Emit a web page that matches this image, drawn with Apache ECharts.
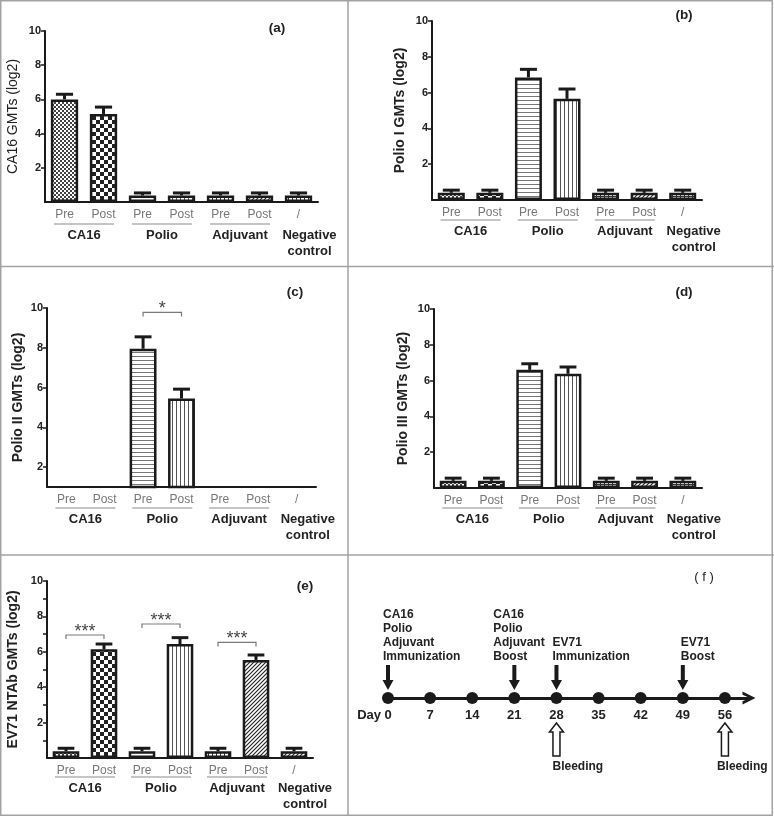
<!DOCTYPE html>
<html><head><meta charset="utf-8">
<script src="https://cdn.jsdelivr.net/npm/echarts@6/dist/echarts.min.js"></script>
<style>html,body{margin:0;padding:0;background:#fff}#c{width:774px;height:816px}</style>
</head><body><div id="c"></div>
<script>
// ---------------- data ----------------
const categories = ['Pre', 'Post', 'Pre', 'Post', 'Pre', 'Post', '/'];
const groupNames = ['CA16', 'Polio', 'Adjuvant', 'Negative\ncontrol'];
const groupStart = [0, 2, 4, 6];
const groupSize = [2, 2, 2, 1];
const yTickValues = [2, 4, 6, 8, 10];
const yMinorTickValues = [1, 2, 3, 4, 5, 6, 7, 8, 9, 10];

const ca16Mean   = [6.0, 5.15, 0.38, 0.38, 0.38, 0.38, 0.38];
const ca16Err    = [6.3, 5.55, 0.53, 0.53, 0.53, 0.53, 0.53];
const polio1Mean = [0.4, 0.4, 6.85, 5.65, 0.4, 0.4, 0.4];
const polio1Err  = [0.55, 0.55, 7.3, 6.2, 0.55, 0.55, 0.55];
const polio2Mean = [null, null, 7.95, 5.45, null, null, null];
const polio2Err  = [null, null, 8.55, 5.92, null, null, null];
const polio3Mean = [0.4, 0.4, 6.6, 6.38, 0.4, 0.4, 0.4];
const polio3Err  = [0.55, 0.55, 6.94, 6.76, 0.55, 0.55, 0.55];
const ev71Mean   = [0.38, 6.14, 0.38, 6.44, 0.38, 5.54, 0.38];
const ev71Err    = [0.55, 6.44, 0.55, 6.8, 0.55, 5.82, 0.55];

const sigPolio2From = [2], sigPolio2To = [3], sigPolio2Y = [9.78], sigPolio2Text = ['*'];
const sigEv71From = [0, 2, 4], sigEv71To = [1, 3, 5], sigEv71Y = [6.95, 7.57, 6.53];
const sigEv71Text = ['***', '***', '***'];

const days = [0, 7, 14, 21, 28, 35, 42, 49, 56];
const immunDays = [0, 21, 28, 49];
const immunLabels = ['CA16\nPolio\nAdjuvant\nImmunization', 'CA16\nPolio\nAdjuvant\nBoost', 'EV71\nImmunization', 'EV71\nBoost'];
const bleedDays = [28, 56];
const bleedLabel = 'Bleeding';

// ---------------- styles / layout ----------------
const FONT = '"Liberation Sans", Arial, Helvetica, sans-serif';
const INK = '#1a1a1a';

function pattern(kind) {
  const c = document.createElement('canvas');
  const ctx = c.getContext('2d');
  let s = 4;
  if (kind === 'checker') s = 8;
  c.width = s; c.height = s;
  ctx.fillStyle = '#fff'; ctx.fillRect(0, 0, s, s);
  ctx.fillStyle = '#222'; ctx.strokeStyle = '#222';
  if (kind === 'fine') {
    ctx.fillStyle = '#444';
    ctx.fillRect(0, 0, 2, 2); ctx.fillRect(2, 2, 2, 2);
  } else if (kind === 'checker') {
    ctx.fillRect(0, 0, 4, 4); ctx.fillRect(4, 4, 4, 4);
  } else if (kind === 'hlines') {
    ctx.fillStyle = '#777'; ctx.fillRect(0, 0, s, 1);
  } else if (kind === 'vlines') {
    ctx.fillStyle = '#555'; ctx.fillRect(0, 0, 1, s);
  } else if (kind === 'grid') {
    ctx.fillStyle = '#333'; ctx.fillRect(0, 0, 1, s); ctx.fillRect(0, 0, s, 1);
  } else if (kind === 'diag') {
    ctx.lineWidth = 1.1;
    ctx.beginPath();
    ctx.moveTo(0, 4); ctx.lineTo(4, 0);
    ctx.moveTo(-1, 1); ctx.lineTo(1, -1);
    ctx.moveTo(3, 5); ctx.lineTo(5, 3);
    ctx.stroke();
  }
  return { image: c, repeat: 'repeat' };
}

const basePats = ['fine', 'checker', 'hlines', 'vlines', 'grid', 'diag', 'grid'];
const ePats    = ['fine', 'checker', 'hlines', 'vlines', 'grid', 'diag', 'diag'];

const panels = [
  { mean: ca16Mean, err: ca16Err, yName: 'CA16 GMTs (log2)', ymin: 0, tag: '(a)',
    grid: { left: 45, top: 31, width: 273, height: 171 }, nameGap: 25, bold: false, tagX: 277, tagY: 28, pats: basePats, gMargin: 19 },
  { mean: polio1Mean, err: polio1Err, yName: 'Polio I GMTs (log2)', ymin: 0, tag: '(b)',
    grid: { left: 432, top: 21, width: 270, height: 179 }, nameGap: 25, bold: true, tagX: 684, tagY: 15, pats: basePats, gMargin: 17 },
  { mean: polio2Mean, err: polio2Err, yName: 'Polio II GMTs (log2)', ymin: 1, tag: '(c)',
    grid: { left: 47, top: 308, width: 269, height: 179 }, nameGap: 22, bold: true, tagX: 295, tagY: 292, pats: basePats, gMargin: 18,
    sig: { from: sigPolio2From, to: sigPolio2To, y: sigPolio2Y, text: sigPolio2Text } },
  { mean: polio3Mean, err: polio3Err, yName: 'Polio III GMTs (log2)', ymin: 0, tag: '(d)',
    grid: { left: 434, top: 309, width: 268, height: 179 }, nameGap: 24, bold: true, tagX: 684, tagY: 292, pats: basePats, gMargin: 17 },
  { mean: ev71Mean, err: ev71Err, yName: 'EV71 NTAb GMTs (log2)', ymin: 0, tag: '(e)',
    grid: { left: 47, top: 581, width: 266, height: 177 }, nameGap: 27, bold: true, tagX: 305, tagY: 586, pats: ePats, gMargin: 16,
    sig: { from: sigEv71From, to: sigEv71To, y: sigEv71Y, text: sigEv71Text }, minor: true },
];

const grids = [], xAxes = [], yAxes = [], series = [], graphics = [];

const groupRich = {
  u: { width: 60, height: 1, lineHeight: 6, backgroundColor: '#8c8c8c' },
  s: { width: 1, height: 1, lineHeight: 6 },
  g: { fontFamily: FONT, fontWeight: 'bold', fontSize: 13, color: '#222', lineHeight: 16 },
  h: { fontFamily: FONT, fontWeight: 'bold', fontSize: 13, color: '#222', lineHeight: 16, padding: [0, 0, 0, 22] }
};
function groupLabel(v) {
  const i = groupStart.findIndex((s, j) => Math.abs(s + groupSize[j] / 2 - v) < 1e-6);
  if (i < 0) return '';
  const sty = groupSize[i] > 1 ? 'g' : 'h';
  const lines = groupNames[i].split('\n').map(t => '{' + sty + '|' + t + '}').join('\n');
  return (groupSize[i] > 1 ? '{u|}' : '{s|}') + '\n' + lines;
}
const pairCenters = groupStart.map((s, i) => s + groupSize[i] / 2).filter((c, i) => groupSize[i] > 1);
const singleCenters = groupStart.map((s, i) => s + groupSize[i] / 2).filter((c, i) => groupSize[i] === 1);

panels.forEach((p, k) => {
  grids.push(Object.assign({ outerBoundsMode: 'none', containLabel: false }, p.grid));
  const xBase = xAxes.length;
  // category axis
  xAxes.push({
    type: 'category', gridIndex: k, data: categories,
    axisLine: { lineStyle: { color: INK, width: 2 } },
    axisTick: { alignWithLabel: true, length: 5, lineStyle: { color: INK, width: 1.2 } },
    axisLabel: { margin: 7, color: '#777', fontFamily: FONT, fontSize: 12, interval: 0 },
    splitLine: { show: false }
  });
  // group label axes (paired groups, single groups)
  [pairCenters, singleCenters].forEach(vals => {
    xAxes.push({
      type: 'value', gridIndex: k, min: 0, max: 7, position: 'bottom',
      axisLine: { show: false }, axisTick: { show: false }, splitLine: { show: false },
      axisLabel: { customValues: vals, margin: p.gMargin, hideOverlap: false, formatter: groupLabel, rich: groupRich }
    });
  });
  yAxes.push({
    type: 'value', gridIndex: k, min: p.ymin, max: 10,
    name: p.yName, nameLocation: 'middle', nameGap: p.nameGap,
    nameTextStyle: { fontFamily: FONT, fontSize: 14, fontWeight: p.bold ? 'bold' : 'normal', color: '#222' },
    axisLine: { show: true, onZero: false, lineStyle: { color: INK, width: 2 } },
    axisTick: { show: true, length: 4, customValues: p.minor ? yMinorTickValues : yTickValues, lineStyle: { color: INK, width: 1.5 } },
    axisLabel: { customValues: yTickValues, margin: 4, fontFamily: FONT, fontSize: 11, fontWeight: 'bold', color: '#222' },
    splitLine: { show: false }
  });
  series.push({
    type: 'bar', xAxisIndex: xBase, yAxisIndex: k, barWidth: '70%', z: 2,
    itemStyle: { borderColor: INK, borderWidth: 2.5 },
    data: p.mean.map((v, i) => v == null ? '-' : ({ value: v, itemStyle: { color: pattern(p.pats[i]) } })),
    animation: false
  });
  series.push({
    type: 'custom', xAxisIndex: xBase, yAxisIndex: k, z: 4, clip: false,
    data: p.mean.map((v, i) => v == null ? null : [i, v, p.err[i]]).filter(d => d),
    renderItem: function (params, api) {
      const b = api.coord([api.value(0), api.value(1)]);
      const t = api.coord([api.value(0), api.value(2)]);
      const hw = api.size([1, 0])[0] * 0.22;
      return { type: 'group', children: [
        { type: 'line', shape: { x1: b[0], y1: b[1], x2: t[0], y2: t[1] }, style: { stroke: INK, lineWidth: 3 } },
        { type: 'line', shape: { x1: t[0] - hw, y1: t[1], x2: t[0] + hw, y2: t[1] }, style: { stroke: INK, lineWidth: 3 } }
      ] };
    },
    animation: false
  });
  if (p.sig) {
    series.push({
      type: 'custom', xAxisIndex: xBase, yAxisIndex: k, z: 4, clip: false,
      data: p.sig.from.map((f, i) => [f, p.sig.to[i], p.sig.y[i]]),
      renderItem: function (params, api) {
        const a = api.coord([api.value(0), api.value(2)]);
        const b = api.coord([api.value(1), api.value(2)]);
        return { type: 'group', children: [
          { type: 'polyline', shape: { points: [[a[0], a[1] + 4], [a[0], a[1]], [b[0], b[1]], [b[0], b[1] + 4]] },
            style: { stroke: '#7a7a7a', lineWidth: 1.2, fill: null } },
          { type: 'text', style: { text: p.sig.text[params.dataIndex], x: (a[0] + b[0]) / 2, y: a[1] - 3,
            align: 'center', verticalAlign: 'middle', font: '18px ' + FONT, fill: '#444' } }
        ] };
      },
      animation: false
    });
  }
  graphics.push({ type: 'text', x: p.tagX, y: p.tagY, style: { text: p.tag, font: 'bold 13.5px ' + FONT, fill: '#222', align: 'center', verticalAlign: 'middle' } });
});

// ---------------- timeline (f) ----------------
const TG = grids.length;
grids.push({ left: 388, top: 590, width: 361, height: 108, outerBoundsMode: 'none', containLabel: false });
xAxes.push({
  type: 'value', gridIndex: TG, min: 0, max: 60,
  axisLine: { show: true, onZero: false, lineStyle: { color: INK, width: 3 },
    symbol: ['none', 'path://M0,14 L7,0 L14,14 L10.5,14 L7,6 L3.5,14 Z'], symbolSize: [13, 13] },
  axisTick: { show: false }, splitLine: { show: false },
  axisLabel: {
    customValues: days, margin: 11,
    formatter: v => v === 0 ? '{n|Day 0}{p|}' : '{n|' + v + '}',
    rich: { n: { fontFamily: FONT, fontWeight: 'bold', fontSize: 13, color: '#222' }, p: { width: 27 } }
  }
});
const TX = xAxes.length - 1;
yAxes.push({ type: 'value', gridIndex: TG, min: 0, max: 1, show: false });

const immunShift = [-5, -21, -4, -2];
const bleedShift = [-4, -8];

series.push({
  type: 'scatter', xAxisIndex: TX, yAxisIndex: TG, symbolSize: 12, z: 3, clip: false,
  itemStyle: { color: INK, opacity: 1 }, data: days.map(d => [d, 0]), animation: false
});
series.push({
  type: 'custom', xAxisIndex: TX, yAxisIndex: TG, z: 4, clip: false,
  data: immunDays.map(d => [d, 0]),
  renderItem: function (params, api) {
    const c = api.coord([api.value(0), api.value(1)]);
    const x = c[0], y = c[1];
    return { type: 'group', children: [
      { type: 'polygon', shape: { points: [[x - 2, y - 33], [x + 2, y - 33], [x + 2, y - 18], [x + 5.5, y - 18], [x, y - 8], [x - 5.5, y - 18], [x - 2, y - 18]] },
        style: { fill: INK } },
      { type: 'text', style: { text: immunLabels[params.dataIndex], x: x + immunShift[params.dataIndex], y: y - 34,
        align: 'left', verticalAlign: 'bottom', font: 'bold 12px ' + FONT, fill: '#222', lineHeight: 14 } }
    ] };
  },
  animation: false
});
series.push({
  type: 'custom', xAxisIndex: TX, yAxisIndex: TG, z: 4, clip: false,
  data: bleedDays.map(d => [d, 0]),
  renderItem: function (params, api) {
    const c = api.coord([api.value(0), api.value(1)]);
    const x = c[0], y = c[1];
    return { type: 'group', children: [
      { type: 'polygon', shape: { points: [[x, y + 25], [x + 7, y + 34], [x + 3.5, y + 34], [x + 3.5, y + 58], [x - 3.5, y + 58], [x - 3.5, y + 34], [x - 7, y + 34]] },
        style: { fill: '#fff', stroke: INK, lineWidth: 1.5 } },
      { type: 'text', style: { text: bleedLabel, x: x + bleedShift[params.dataIndex], y: y + 69,
        align: 'left', verticalAlign: 'middle', font: 'bold 12px ' + FONT, fill: '#222' } }
    ] };
  },
  animation: false
});
graphics.push({ type: 'text', x: 704, y: 577, style: { text: '( f )', font: '13px ' + FONT, fill: '#222', align: 'center', verticalAlign: 'middle' } });

// panel borders
const BORDER = { stroke: '#a3a3a3', lineWidth: 1.5, fill: null };
graphics.push({ type: 'rect', shape: { x: 0.75, y: 0.75, width: 771.5, height: 814.5 }, style: BORDER, z: -1 });
graphics.push({ type: 'line', shape: { x1: 348, y1: 0, x2: 348, y2: 816 }, style: BORDER, z: -1 });
graphics.push({ type: 'line', shape: { x1: 0, y1: 266.5, x2: 774, y2: 266.5 }, style: BORDER, z: -1 });
graphics.push({ type: 'line', shape: { x1: 0, y1: 555, x2: 774, y2: 555 }, style: BORDER, z: -1 });

const chart = echarts.init(document.getElementById('c'), null, { renderer: 'canvas', width: 774, height: 816 });
chart.setOption({
  backgroundColor: '#fff',
  animation: false,
  grid: grids, xAxis: xAxes, yAxis: yAxes, series: series, graphic: graphics
});
</script>
</body></html>
